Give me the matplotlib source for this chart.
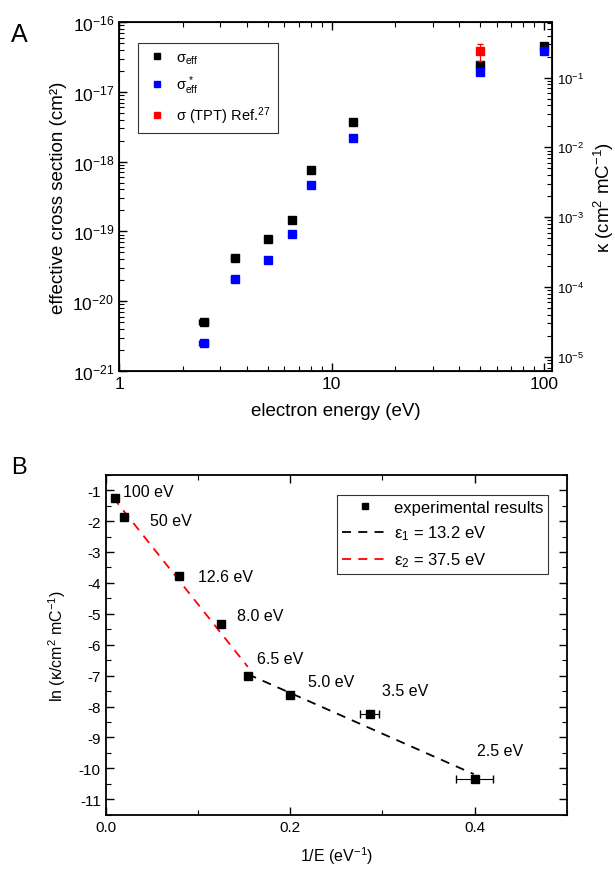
import numpy as np
import matplotlib
matplotlib.use('Agg')
import matplotlib.pyplot as plt
from matplotlib.lines import Line2D
from matplotlib.ticker import LogLocator, FixedLocator, MultipleLocator, NullFormatter

plt.rcParams['font.family'] = ['Liberation Sans', 'DejaVu Sans']
plt.rcParams['mathtext.fontset'] = 'custom'
plt.rcParams['mathtext.rm'] = 'Liberation Sans'
plt.rcParams['mathtext.it'] = 'Liberation Sans:italic'
plt.rcParams['mathtext.bf'] = 'Liberation Sans:bold'
plt.rcParams['axes.unicode_minus'] = False

'''数据：panel A'''
energy = [2.5, 3.5, 5.0, 6.5, 8.0, 12.6, 50, 100]
energy_xerr = [0.125, 0.13, 0, 0, 0, 0, 0, 0]
sigma_eff = [5.1e-21, 4.2e-20, 7.8e-20, 1.45e-19, 7.6e-19, 3.7e-18, 2.45e-17, 4.6e-17]
sigma_eff_star = [2.5e-21, 2.1e-20, 3.9e-20, 9.1e-20, 4.6e-19, 2.2e-18, 1.95e-17, 3.8e-17]
tpt_energy = [50]
tpt_sigma = [3.8e-17]
tpt_err_low = [1.05e-17]
tpt_err_high = [1.0e-17]
e_charge_mC = 1.602e-16  # sigma / e -> kappa

'''数据：panel B'''
inv_e = [0.01, 0.02, 0.079, 0.125, 0.154, 0.2, 0.286, 0.4]
inv_e_err = [0, 0, 0, 0, 0, 0, 0.0105, 0.02]
ln_kappa = [-1.26, -1.88, -3.77, -5.34, -7.0, -7.62, -8.24, -10.35]
point_labels = ['100 eV', '50 eV', '12.6 eV', '8.0 eV', '6.5 eV', '5.0 eV', '3.5 eV', '2.5 eV']
label_pos = [(0.019, -1.04), (0.048, -1.97), (0.1, -3.79), (0.142, -5.05),
             (0.164, -6.45), (0.219, -7.2), (0.3, -7.49), (0.402, -9.42)]
eps1, b1, fit1_x = 13.2, -4.92, [0.154, 0.399]
eps2, b2, fit2_x = 37.5, -0.94, [0.008, 0.154]

fig = plt.figure(figsize=(6.15, 8.7), dpi=100)

# ---------- panel A ----------
ax = fig.add_axes([0.1935, 0.5724, 0.704, 0.4011])
ax.errorbar(energy, sigma_eff, xerr=energy_xerr, fmt='s', color='black', ms=5.5,
            elinewidth=0.8, capsize=2, zorder=3)
ax.errorbar(energy, sigma_eff_star, xerr=energy_xerr, fmt='s', color='blue', ms=5.5,
            elinewidth=0.8, capsize=2, zorder=3)
ax.errorbar(tpt_energy, tpt_sigma, yerr=[tpt_err_low, tpt_err_high], fmt='s', color='red', ms=5.5,
            elinewidth=0.8, capsize=2.5, zorder=4)
ax.set_xscale('log')
ax.set_yscale('log')
ax.set_xlim(1, 109)
ax.set_ylim(1e-21, 1e-16)
ax.set_xlabel('electron energy (eV)', fontsize=13.5, labelpad=8)
ax.set_ylabel('effective cross section (cm²)', fontsize=13.5, labelpad=4)
ax.set_xticks([1, 10, 100])
ax.set_xticklabels(['1', '10', '100'])
ax.set_yticks([1e-21, 1e-20, 1e-19, 1e-18, 1e-17, 1e-16])
ax.set_yticklabels([r'$\mathregular{10^{%d}}$' % p for p in range(-21, -15)])
ax.yaxis.set_minor_locator(LogLocator(base=10, subs=np.arange(2, 10), numticks=20))
ax.yaxis.set_minor_formatter(NullFormatter())
ax.xaxis.set_minor_locator(LogLocator(base=10, subs=np.arange(2, 10), numticks=20))
ax.xaxis.set_minor_formatter(NullFormatter())
ax.tick_params(which='both', direction='in', top=True, labelsize=12.5)
ax.tick_params(which='major', length=6, width=1)
ax.tick_params(which='minor', length=3.5, width=0.8)
for s in ax.spines.values():
    s.set_linewidth(1.3)

axr = ax.twinx()
axr.set_yscale('log')
axr.set_ylim(1e-21 / e_charge_mC, 1e-16 / e_charge_mC)
axr.set_yticks([1e-5, 1e-4, 1e-3, 1e-2, 1e-1])
axr.set_yticklabels([r'$\mathregular{10^{%d}}$' % p for p in range(-5, 0)])
axr.yaxis.set_minor_locator(LogLocator(base=10, subs=np.arange(2, 10), numticks=20))
axr.yaxis.set_minor_formatter(NullFormatter())
axr.tick_params(which='both', direction='in', labelsize=9.5)
axr.tick_params(which='major', length=6, width=1)
axr.tick_params(which='minor', length=3.5, width=0.8)
axr.set_ylabel(r'κ (cm$\mathregular{^2}$ mC$\mathregular{^{-1}}$)', fontsize=13.5, labelpad=6)

# 图例只显示方块标记，不带误差棒
leg_a = [Line2D([], [], ls='none', marker='s', ms=5, color='black'),
         Line2D([], [], ls='none', marker='s', ms=5, color='blue'),
         Line2D([], [], ls='none', marker='s', ms=5, color='red')]
leg = ax.legend(leg_a, [r'$\mathregular{σ_{eff}}$', r'$\mathregular{σ_{eff}^{\,*}}$',
                        r'σ (TPT) Ref.$\mathregular{^{27}}$'],
                loc='upper left', bbox_to_anchor=(0.044, 0.94), borderaxespad=0, fontsize=10.5,
                frameon=True, fancybox=False, edgecolor='black', handletextpad=0.5,
                labelspacing=0.55, borderpad=0.5, handlelength=1.6)
leg.get_frame().set_linewidth(0.8)

fig.text(0.018, 0.96, 'A', fontsize=18, va='center')

# ---------- panel B ----------
bx = fig.add_axes([0.1719, 0.0624, 0.750, 0.3908])
bx.plot(fit1_x, [b1 - eps1 * x for x in fit1_x], ls=(0, (5, 4)), color='black', lw=1.3, zorder=2)
bx.plot(fit2_x, [b2 - eps2 * x for x in fit2_x], ls=(0, (5, 4)), color='red', lw=1.3, zorder=2)
bx.errorbar(inv_e, ln_kappa, xerr=inv_e_err, fmt='s', color='black', ms=6,
            elinewidth=0.8, capsize=3, zorder=3)
for txt, (tx, ty) in zip(point_labels, label_pos):
    bx.text(tx, ty, txt, fontsize=11.5, va='center', ha='left')
bx.set_xlim(0, 0.5)
bx.set_ylim(-11.5, -0.5)
bx.xaxis.set_major_locator(FixedLocator([0.0, 0.2, 0.4]))
bx.xaxis.set_minor_locator(MultipleLocator(0.1))
bx.yaxis.set_major_locator(MultipleLocator(1))
bx.yaxis.set_minor_locator(MultipleLocator(0.5))
bx.set_xticklabels(['0.0', '0.2', '0.4'])
bx.set_yticks(range(-11, 0))
bx.set_xlabel(r'1/E (eV$\mathregular{^{-1}}$)', fontsize=11.5, labelpad=8)
bx.set_ylabel(r'ln (κ/cm$\mathregular{^2}$ mC$\mathregular{^{-1}}$)', fontsize=11.5, labelpad=8)
bx.tick_params(which='both', direction='in', top=True, right=True, labelsize=11)
bx.tick_params(which='major', length=6, width=1)
bx.tick_params(which='minor', length=3.5, width=0.8)
for s in bx.spines.values():
    s.set_linewidth(1.3)

leg_b = [Line2D([], [], ls='none', marker='s', ms=5, color='black'),
         Line2D([], [], ls=(0, (5, 4)), lw=1.3, color='black'),
         Line2D([], [], ls=(0, (5, 4)), lw=1.3, color='red')]
leg2 = bx.legend(leg_b, ['experimental results', r'$\mathregular{ε_1}$ = 13.2 eV',
                         r'$\mathregular{ε_2}$ = 37.5 eV'],
                 loc='upper right', bbox_to_anchor=(0.959, 0.94), borderaxespad=0, fontsize=12,
                 frameon=True, fancybox=False, edgecolor='black', handlelength=2.8,
                 handletextpad=0.3, labelspacing=0.5, borderpad=0.3)
leg2.get_frame().set_linewidth(0.8)

fig.text(0.018, 0.462, 'B', fontsize=17, va='center')

fig.savefig('out.png', dpi=100)
